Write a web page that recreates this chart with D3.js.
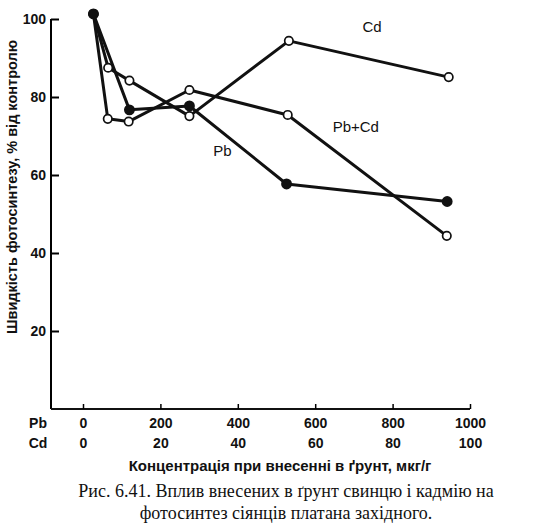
<!DOCTYPE html>
<html>
<head>
<meta charset="utf-8">
<script src="https://cdn.jsdelivr.net/npm/d3@7"></script>
<style>
  html, body { margin: 0; padding: 0; background: #fff; }
  svg { display: block; }
  .tick text, .lbl { font-family: "Liberation Sans", Arial, sans-serif; font-weight: bold; fill: #111; }
  .caption { font-family: "Liberation Serif", "Times New Roman", serif; fill: #111; }
</style>
</head>
<body>
<div id="chart"></div>
<script>
// Concentrations are in Pb units (mkg/g); Cd row is the same axis / 10
const pbX = [27, 120, 275, 526, 941];
const pbY = [101.3, 76.7, 77.7, 57.7, 53.2];

const cdX = [27, 65, 120, 275, 532, 945];
const cdY = [101.3, 87.5, 84.2, 75.1, 94.4, 85.1];

const mixX = [27, 64, 118, 275, 529, 940];
const mixY = [101.3, 74.4, 73.7, 81.8, 75.4, 44.4];

const pbTicks = [0, 200, 400, 600, 800, 1000];
const cdTicks = [0, 20, 40, 60, 80, 100];
const yTicks = [20, 40, 60, 80, 100];

// series labels, placed in data coordinates
const seriesLabels = [
    { text: "Cd", x: 747, y: 98 },
    { text: "Pb+Cd", x: 705, y: 72.3 },
    { text: "Pb", x: 360, y: 66.2 }
];

const W = 538, H = 528;

const svg = d3.select("#chart").append("svg")
    .attr("width", W)
    .attr("height", H);

const x = d3.scaleLinear().domain([0, 1000]).range([83, 470]);
const xCd = d3.scaleLinear().domain([0, 100]).range([83, 470]);
const y = d3.scaleLinear().domain([0, 100]).range([409, 19]);

const axisX0 = 51;
const fmt = d3.format("d");

// Y axis (ticks pointing inward)
svg.append("g")
    .attr("transform", `translate(${axisX0},0)`)
    .call(d3.axisLeft(y).tickValues(yTicks).tickFormat(fmt).tickSizeInner(-8).tickSizeOuter(0).tickPadding(5))
    .call(g => g.select(".domain").attr("stroke-width", 2).attr("d", `M0,${y(0)}V${y(100)}`))
    .call(g => g.selectAll(".tick line").attr("stroke-width", 2))
    .call(g => g.selectAll(".tick text").style("font-size", "14px"));

// X axis line
svg.append("line")
    .attr("x1", axisX0).attr("x2", x(1000))
    .attr("y1", y(0)).attr("y2", y(0))
    .attr("stroke", "#111").attr("stroke-width", 2);

// Pb tick row
svg.append("g")
    .attr("transform", `translate(0,${y(0)})`)
    .call(d3.axisBottom(x).tickValues(pbTicks).tickFormat(fmt).tickSizeInner(-5).tickSizeOuter(0).tickPadding(9))
    .call(g => g.select(".domain").remove())
    .call(g => g.selectAll(".tick line").attr("stroke-width", 1.5))
    .call(g => g.selectAll(".tick text").style("font-size", "14px"));

// Cd tick row
svg.append("g")
    .attr("transform", `translate(0,${y(0)})`)
    .call(d3.axisBottom(xCd).tickValues(cdTicks).tickFormat(fmt).tickSize(0).tickPadding(29))
    .call(g => g.select(".domain").remove())
    .call(g => g.selectAll(".tick line").remove())
    .call(g => g.selectAll(".tick text").style("font-size", "14px"));

svg.append("text").attr("class", "lbl")
    .attr("x", 38).attr("y", 428)
    .attr("text-anchor", "middle").style("font-size", "14px").text("Pb");
svg.append("text").attr("class", "lbl")
    .attr("x", 38).attr("y", 448)
    .attr("text-anchor", "middle").style("font-size", "14px").text("Cd");

// axis titles
svg.append("text").attr("class", "lbl")
    .attr("x", 280).attr("y", 471)
    .attr("text-anchor", "middle").style("font-size", "15px")
    .text("Концентрація при внесенні в ґрунт, мкг/г");

svg.append("text").attr("class", "lbl")
    .attr("transform", "translate(17,187) rotate(-90)")
    .attr("text-anchor", "middle").style("font-size", "14.5px")
    .text("Швидкість фотосинтезу, % від контролю");

// caption
svg.append("text").attr("class", "caption")
    .attr("x", 286).attr("y", 497)
    .attr("text-anchor", "middle").style("font-size", "18px")
    .text("Рис. 6.41. Вплив внесених в ґрунт свинцю і кадмію на");
svg.append("text").attr("class", "caption")
    .attr("x", 286).attr("y", 519)
    .attr("text-anchor", "middle").style("font-size", "18px")
    .text("фотосинтез сіянців платана західного.");

// series
const series = [
    { xs: cdX, ys: cdY, filled: false },
    { xs: mixX, ys: mixY, filled: false },
    { xs: pbX, ys: pbY, filled: true }
];

const line = d3.line()
    .x(d => x(d[0]))
    .y(d => y(d[1]));

series.forEach(s => {
    s.points = s.xs.map((v, i) => [v, s.ys[i]]);
    svg.append("path")
        .datum(s.points)
        .attr("d", line)
        .attr("fill", "none")
        .attr("stroke", "#111")
        .attr("stroke-width", 3)
        .attr("stroke-linejoin", "round");
});

series.forEach(s => {
    svg.selectAll(null)
        .data(s.points)
        .enter().append("circle")
        .attr("cx", d => x(d[0]))
        .attr("cy", d => y(d[1]))
        .attr("r", s.filled ? 4.6 : 4.2)
        .attr("fill", s.filled ? "#111" : "#fff")
        .attr("stroke", "#111")
        .attr("stroke-width", 1.7);
});

svg.selectAll(".slbl")
    .data(seriesLabels)
    .enter().append("text")
    .attr("class", "lbl")
    .attr("x", d => x(d.x))
    .attr("y", d => y(d.y))
    .attr("text-anchor", "middle")
    .attr("dy", "0.35em")
    .style("font-size", "15px")
    .style("font-weight", "normal")
    .text(d => d.text);
</script>
</body>
</html>
